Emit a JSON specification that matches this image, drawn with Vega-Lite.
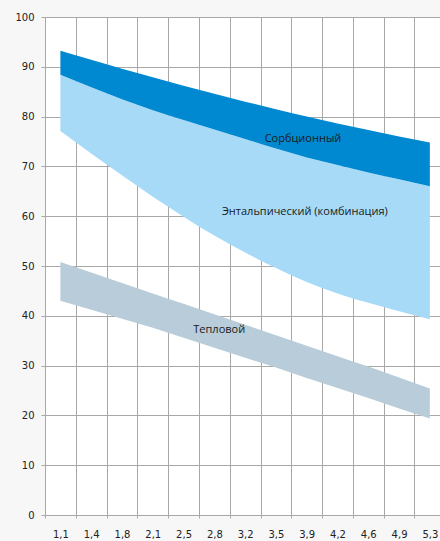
{
  "$schema": "https://vega.github.io/schema/vega-lite/v6.json",
  "width": 395,
  "height": 498,
  "autosize": {"type": "none"},
  "padding": {"left": 45, "top": 17, "right": 0, "bottom": 26},
  "background": "#f7f7f7",
  "config": {"view": {"fill": "white", "stroke": null}},
  "datasets": {
    "bands": [
      {"i": 1, "s": "Тепловой", "lo": 43.0, "hi": 50.8},
      {"i": 2, "s": "Тепловой", "lo": 41.2, "hi": 48.7},
      {"i": 3, "s": "Тепловой", "lo": 39.4, "hi": 46.6},
      {"i": 4, "s": "Тепловой", "lo": 37.6, "hi": 44.5},
      {"i": 5, "s": "Тепловой", "lo": 35.6, "hi": 42.4},
      {"i": 6, "s": "Тепловой", "lo": 33.6, "hi": 40.3},
      {"i": 7, "s": "Тепловой", "lo": 31.6, "hi": 38.2},
      {"i": 8, "s": "Тепловой", "lo": 29.6, "hi": 36.1},
      {"i": 9, "s": "Тепловой", "lo": 27.5, "hi": 34.0},
      {"i": 10, "s": "Тепловой", "lo": 25.5, "hi": 31.9},
      {"i": 11, "s": "Тепловой", "lo": 23.5, "hi": 29.8},
      {"i": 12, "s": "Тепловой", "lo": 21.4, "hi": 27.6},
      {"i": 13, "s": "Тепловой", "lo": 19.4, "hi": 25.4},
      {"i": 1, "s": "Энтальпический", "lo": 77.1, "hi": 88.4},
      {"i": 2, "s": "Энтальпический", "lo": 72.6, "hi": 85.9},
      {"i": 3, "s": "Энтальпический", "lo": 68.2, "hi": 83.5},
      {"i": 4, "s": "Энтальпический", "lo": 63.9, "hi": 81.3},
      {"i": 5, "s": "Энтальпический", "lo": 59.9, "hi": 79.3},
      {"i": 6, "s": "Энтальпический", "lo": 56.1, "hi": 77.4},
      {"i": 7, "s": "Энтальпический", "lo": 52.7, "hi": 75.5},
      {"i": 8, "s": "Энтальпический", "lo": 49.6, "hi": 73.6},
      {"i": 9, "s": "Энтальпический", "lo": 46.8, "hi": 71.8},
      {"i": 10, "s": "Энтальпический", "lo": 44.5, "hi": 70.3},
      {"i": 11, "s": "Энтальпический", "lo": 42.6, "hi": 68.8},
      {"i": 12, "s": "Энтальпический", "lo": 40.9, "hi": 67.4},
      {"i": 13, "s": "Энтальпический", "lo": 39.3, "hi": 66.0},
      {"i": 1, "s": "Сорбционный", "lo": 88.4, "hi": 93.2},
      {"i": 2, "s": "Сорбционный", "lo": 85.9, "hi": 91.4},
      {"i": 3, "s": "Сорбционный", "lo": 83.5, "hi": 89.6},
      {"i": 4, "s": "Сорбционный", "lo": 81.3, "hi": 87.9},
      {"i": 5, "s": "Сорбционный", "lo": 79.3, "hi": 86.2},
      {"i": 6, "s": "Сорбционный", "lo": 77.4, "hi": 84.6},
      {"i": 7, "s": "Сорбционный", "lo": 75.5, "hi": 83.0},
      {"i": 8, "s": "Сорбционный", "lo": 73.6, "hi": 81.5},
      {"i": 9, "s": "Сорбционный", "lo": 71.8, "hi": 80.0},
      {"i": 10, "s": "Сорбционный", "lo": 70.3, "hi": 78.6},
      {"i": 11, "s": "Сорбционный", "lo": 68.8, "hi": 77.3},
      {"i": 12, "s": "Сорбционный", "lo": 67.4, "hi": 76.0},
      {"i": 13, "s": "Сорбционный", "lo": 66.0, "hi": 74.8}
    ],
    "labels": [
      {"label": "Сорбционный", "i": 8.88, "v": 75.5},
      {"label": "Энтальпический (комбинация)", "i": 8.94, "v": 60.9},
      {"label": "Тепловой", "i": 6.16, "v": 37.2}
    ]
  },
  "layer": [
    {
      "data": {"name": "bands"},
      "mark": {"type": "area", "interpolate": "monotone", "opacity": 1},
      "encoding": {
        "x": {
          "field": "i", "type": "quantitative",
          "scale": {"domain": [0.5, 13.33], "nice": false, "zero": false},
          "axis": {
            "title": null,
            "values": [0.5, 1, 1.5, 2, 2.5, 3, 3.5, 4, 4.5, 5, 5.5, 6, 6.5, 7, 7.5, 8, 8.5, 9, 9.5, 10, 10.5, 11, 11.5, 12, 12.5, 13],
            "tickCount": 60,
            "labelExpr": "datum.value % 1 === 0 ? ['1,1','1,4','1,8','2,1','2,5','2,8','3,2','3,5','3,9','4,2','4,6','4,9','5,3'][datum.value - 1] : ''",
            "grid": true,
            "gridColor": "#a8a8a8",
            "gridWidth": 1,
            "gridOpacity": {"condition": {"test": "datum.value % 1 === 0", "value": 0}, "value": 1},
            "tickOpacity": {"condition": {"test": "datum.value % 1 === 0", "value": 0}, "value": 1},
            "tickColor": "#a8a8a8",
            "tickSize": 3,
            "domainColor": "#a8a8a8",
            "labelFont": "DejaVu Sans",
            "labelFontSize": 10,
            "labelColor": "#222222",
            "labelPadding": 11,
            "labelFlush": false,
            "labelOverlap": false
          }
        },
        "y": {
          "field": "lo", "type": "quantitative",
          "scale": {"domain": [0, 100], "nice": false},
          "axis": {
            "title": null,
            "values": [0, 10, 20, 30, 40, 50, 60, 70, 80, 90, 100],
            "tickCount": 20,
            "grid": true,
            "gridColor": "#a8a8a8",
            "gridWidth": 1,
            "tickColor": "#a8a8a8",
            "tickSize": 4,
            "domainColor": "#a8a8a8",
            "labelFont": "DejaVu Sans",
            "labelFontSize": 10,
            "labelColor": "#222222",
            "labelPadding": 7
          }
        },
        "y2": {"field": "hi"},
        "color": {
          "field": "s", "type": "nominal",
          "scale": {"domain": ["Тепловой", "Энтальпический", "Сорбционный"], "range": ["#b8cdd9", "#a6daf7", "#0088d0"]},
          "legend": null
        }
      }
    },
    {
      "data": {"name": "labels"},
      "mark": {"type": "text", "font": "Open Sans", "fontSize": 11, "color": "#1a1a1a", "align": "center", "baseline": "middle"},
      "encoding": {
        "x": {"field": "i", "type": "quantitative"},
        "y": {"field": "v", "type": "quantitative"},
        "text": {"field": "label"}
      }
    }
  ]
}
